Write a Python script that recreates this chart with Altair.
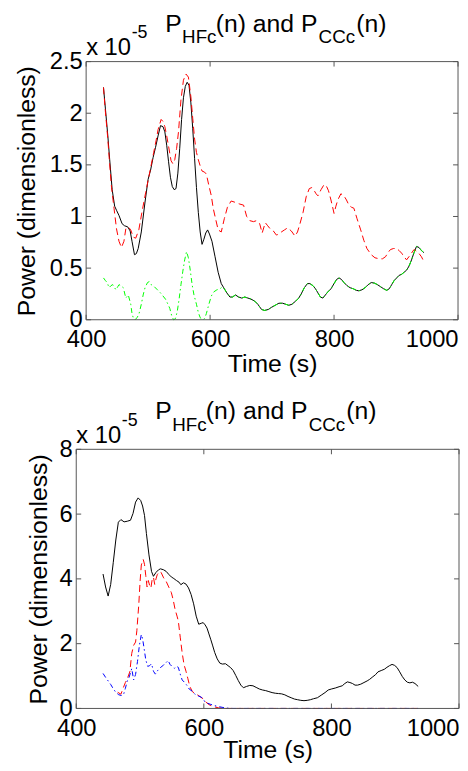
import altair as alt
import pandas as pd

FONT = "Liberation Sans"

# ---------------- top panel data (units of 1e-5) ----------------
top_black_t = [428, 431, 435, 438, 442, 446, 449, 453, 458, 462, 467, 471, 474, 478, 481, 484, 489, 495, 500, 504,
               508, 512, 516, 520, 524, 527, 530, 533, 536, 539, 542, 545, 548, 551, 554, 557, 560, 563, 566, 569,
               572, 575, 578, 581, 584, 587, 590, 593, 596, 599, 603, 608, 613, 618, 622, 627, 632, 636, 641, 646,
               651, 656, 661, 666, 672, 677, 683, 688, 694, 699, 705, 711, 717, 722, 727, 732, 738, 743, 747, 752,
               757, 761, 766, 770, 774, 778, 782, 786, 790, 795, 800, 804, 808, 812, 816, 821, 826, 831, 836, 840,
               845, 850, 855, 860, 865, 870, 875, 880, 885, 889, 893, 897, 901, 905, 909, 913, 917, 921, 925, 929,
               933, 937, 941, 945]
top_black_v = [2.25, 2.05, 1.78, 1.55, 1.26, 1.10, 1.06, 1.01, 0.93, 0.91, 0.90, 0.86, 0.76, 0.63, 0.64, 0.69, 0.85,
               1.14, 1.36, 1.45, 1.57, 1.67, 1.78, 1.88, 1.87, 1.82, 1.69, 1.53, 1.38, 1.29, 1.26, 1.27, 1.42, 1.66,
               1.94, 2.15, 2.26, 2.30, 2.27, 2.10, 1.85, 1.56, 1.28, 1.04, 0.85, 0.73, 0.78, 0.84, 0.87, 0.83, 0.76,
               0.61, 0.46, 0.35, 0.31, 0.26, 0.22, 0.22, 0.24, 0.22, 0.21, 0.22, 0.21, 0.20, 0.18, 0.15, 0.10, 0.09,
               0.10, 0.12, 0.14, 0.16, 0.16, 0.15, 0.14, 0.15, 0.18, 0.21, 0.25, 0.31, 0.35, 0.35, 0.33, 0.30, 0.26,
               0.22, 0.21, 0.24, 0.27, 0.30, 0.35, 0.39, 0.405, 0.39, 0.36, 0.33, 0.31, 0.30, 0.285, 0.28, 0.29,
               0.31, 0.34, 0.36, 0.355, 0.34, 0.32, 0.30, 0.285, 0.30, 0.34, 0.38, 0.405, 0.43, 0.44, 0.46, 0.48,
               0.52, 0.58, 0.65, 0.71, 0.70, 0.67, 0.65]

top_red_t = [428, 431, 435, 438, 441, 445, 449, 453, 457, 461, 464, 468, 472, 476, 480, 485, 490, 496, 501, 505,
             509, 513, 516, 521, 524, 527, 530, 533, 537, 540, 543, 546, 549, 553, 557, 561, 565, 569, 572, 575,
             578, 581, 584, 587, 591, 594, 598, 602, 605, 608, 613, 618, 623, 628, 634, 639, 643, 648, 654, 659,
             664, 670, 675, 680, 684, 689, 693, 697, 702, 707, 711, 715, 720, 725, 731, 737, 741, 745, 750, 755,
             760, 764, 767, 771, 774, 779, 784, 788, 791, 795, 800, 803, 806, 811, 816, 820, 824, 828, 832, 837,
             843, 848, 853, 860, 866, 873, 878, 883, 887, 891, 896, 901, 905, 909, 913, 917, 922, 929, 936, 941,
             946]
top_red_v = [2.25, 2.02, 1.75, 1.50, 1.28, 1.08, 0.88, 0.76, 0.70, 0.76, 0.88, 0.90, 0.87, 0.80, 0.79, 0.87, 1.04,
             1.23, 1.38, 1.50, 1.62, 1.74, 1.84, 1.94, 1.92, 1.87, 1.78, 1.68, 1.54, 1.51, 1.55, 1.66, 1.82, 2.13,
             2.32, 2.38, 2.35, 2.16, 1.95, 1.75, 1.62, 1.55, 1.49, 1.44, 1.43, 1.41, 1.30, 1.20, 1.08, 1.00, 0.87,
             0.85, 0.98, 1.09, 1.15, 1.14, 1.13, 1.12, 1.11, 1.00, 0.96, 0.95, 0.96, 0.93, 0.84, 0.94, 0.91, 0.88,
             0.86, 0.82, 0.83, 0.85, 0.87, 0.89, 0.86, 0.81, 0.85, 0.93, 1.04, 1.19, 1.27, 1.28, 1.26, 1.22, 1.20,
             1.26, 1.31, 1.29, 1.25, 1.16, 1.03, 1.10, 1.16, 1.22, 1.20, 1.16, 1.11, 1.09, 1.08, 0.98, 0.87, 0.77,
             0.69, 0.63, 0.60, 0.59, 0.59, 0.61, 0.65, 0.68, 0.69, 0.69, 0.67, 0.645, 0.61, 0.58, 0.62, 0.68,
             0.65, 0.61, 0.55]

# green: its own values up to t=627, then it lies on the black curve
top_green_early_t = [428, 431, 434, 437, 440, 443, 446, 448, 451, 453, 456, 460, 464, 468, 472, 474, 476, 479, 482,
                     485, 489, 492, 495, 499, 502, 505, 510, 515, 520, 524, 528, 532, 535, 538, 541, 544, 547, 550,
                     553, 556, 559, 562, 565, 568, 571, 574, 578, 581, 584, 588, 591, 594, 598, 602, 606, 611, 616,
                     620, 624, 627]
top_green_early_v = [0.405, 0.38, 0.36, 0.31, 0.33, 0.34, 0.31, 0.29, 0.32, 0.34, 0.33, 0.31, 0.21, 0.24, 0.15,
                     0.06, 0.02, 0.0, 0.02, 0.05, 0.15, 0.24, 0.31, 0.36, 0.37, 0.34, 0.32, 0.29, 0.26, 0.23, 0.20,
                     0.15, 0.11, 0.04, 0.0, 0.01, 0.08, 0.20, 0.34, 0.47, 0.58, 0.66, 0.60, 0.48, 0.34, 0.24, 0.15,
                     0.07, 0.02, 0.0, 0.01, 0.06, 0.15, 0.23, 0.27, 0.29, 0.30, 0.32, 0.29, 0.26]
green_joins_black_at = 632

# ---------------- bottom panel data (units of 1e-5) ----------------
bot_black_t = [442, 446, 450, 454, 458, 462, 466, 470, 475, 480, 485, 489, 493, 497, 501, 504, 507, 510, 514, 518,
               521, 525, 529, 532, 537, 541, 545, 549, 553, 557, 561, 564, 568, 572, 576, 580, 584, 588, 592, 596,
               599, 602, 605, 608, 611, 614, 617, 621, 625, 629, 634, 638, 642, 646, 650, 654, 658, 662, 667, 672,
               677, 682, 687, 692, 697, 702, 707, 712, 717, 722, 727, 732, 737, 742, 747, 752, 757, 762, 767, 772,
               778, 784, 790, 795, 800, 806, 812, 817, 821, 825, 829, 833, 837, 841, 846, 851, 856, 860, 865, 869,
               873, 878, 883, 887, 891, 895, 899, 903, 907, 911, 915, 919, 923, 927, 931, 936]
bot_black_v = [4.15, 3.75, 3.47, 3.83, 4.50, 5.20, 5.75, 5.83, 5.76, 5.78, 5.81, 6.02, 6.37, 6.50, 6.42, 6.25, 5.96,
               5.40, 4.74, 4.23, 4.08, 4.20, 4.28, 4.31, 4.28, 4.23, 4.14, 4.06, 4.01, 3.95, 3.90, 3.82, 3.88, 3.84,
               3.72, 3.52, 3.23, 2.85, 2.60, 2.63, 2.65, 2.58, 2.48, 2.30, 2.12, 1.93, 1.73, 1.53, 1.40, 1.37, 1.38,
               1.32, 1.26, 1.17, 1.02, 0.86, 0.72, 0.64, 0.68, 0.71, 0.70, 0.65, 0.60, 0.57, 0.55, 0.52, 0.49, 0.47,
               0.46, 0.45, 0.42, 0.37, 0.33, 0.29, 0.27, 0.25, 0.24, 0.25, 0.27, 0.30, 0.33, 0.41, 0.49, 0.57, 0.60,
               0.63, 0.67, 0.70, 0.77, 0.82, 0.80, 0.77, 0.72, 0.72, 0.75, 0.80, 0.85, 0.90, 0.98, 1.04, 1.13, 1.17,
               1.21, 1.27, 1.32, 1.36, 1.33, 1.26, 1.13, 0.99, 0.88, 0.81, 0.79, 0.81, 0.77, 0.68]

bot_red_t = [465, 470, 474, 477, 480, 484, 487, 490, 493, 495, 498, 500, 502, 505, 507, 509, 511, 513, 515, 517,
             519, 521, 523, 525, 527, 530, 533, 537, 541, 545, 549, 552, 555, 558, 560, 563, 566, 569, 572, 575,
             578, 582, 587, 591, 595, 599, 603, 608, 613, 618, 623, 628, 634, 700, 760, 820, 880, 936]
bot_red_v = [0.50, 0.44, 0.65, 0.80, 0.92, 1.13, 1.70, 1.95, 2.05, 2.40, 3.20, 3.90, 4.43, 4.60, 4.45, 4.10, 3.75,
             3.95, 3.80, 3.72, 3.98, 4.05, 3.83, 4.00, 4.13, 4.22, 4.20, 4.03, 3.92, 3.75, 3.58, 3.35, 3.05, 2.85,
             2.70, 2.20, 1.72, 1.35, 1.15, 0.92, 0.68, 0.52, 0.45, 0.41, 0.35, 0.30, 0.20, 0.12, 0.07, 0.04, 0.02,
             0.01, 0.0, 0.0, 0.0, 0.0, 0.0, 0.0]

bot_blue_t = [442, 446, 450, 454, 458, 462, 466, 470, 474, 477, 480, 483, 487, 490, 493, 496, 499, 502, 504, 506,
              509, 512, 515, 518, 521, 524, 528, 533, 537, 540, 544, 547, 550, 554, 557, 560, 563, 566, 570, 574,
              577, 582, 587, 592, 596, 600, 605, 610, 615, 620, 625, 630, 636, 645, 700, 760, 820, 880, 936]
bot_blue_v = [1.08, 0.96, 0.85, 0.74, 0.61, 0.50, 0.43, 0.40, 0.42, 0.62, 0.85, 0.97, 1.23, 0.88, 1.05, 1.45, 1.95,
              2.28, 2.15, 1.90, 1.50, 1.30, 1.32, 1.38, 1.15, 1.06, 1.18, 1.28, 1.34, 1.40, 1.48, 1.36, 1.30, 1.24,
              1.30, 1.27, 1.06, 0.88, 0.80, 0.70, 0.60, 0.53, 0.42, 0.38, 0.35, 0.24, 0.17, 0.13, 0.10, 0.07, 0.05,
              0.03, 0.01, 0.0, 0.0, 0.0, 0.0, 0.0, 0.0]

# ---------------- axes / labels ----------------
x_domain = [400, 1000]
x_ticks = [400, 600, 800, 1000]
top_y_ticks = [0, 0.5, 1, 1.5, 2, 2.5]
bot_y_ticks = [0, 2, 4, 6, 8]
x_title = "Time (s)"
y_title = "Power (dimensionless)"
title_pieces = [("P", "main"), ("HFc", "sub"), ("(n) and P", "main"), ("CCc", "sub"), ("(n)", "main")]
title_piece_x = [80, 97, 131, 235, 273]
exp_base = "x 10"
exp_power = "-5"

BOX = "#555555"
ONE = pd.DataFrame({"a": [0]})


def make_panel(series, ymax, yticks, yfmt, W, H, x0, ytitle_pad, xtitle_pad, main_base, sub_base):
    """x0 = pixel where the data rectangle starts inside the view (view starts at 0)."""
    xenc = alt.X("t:Q", scale=alt.Scale(domain=x_domain, nice=False, zero=False, range=[x0, W]),
                 axis=alt.Axis(values=x_ticks, format="d", title=x_title, labelPadding=8,
                               labelFlush=False,
                               labelAlign={"condition": {"test": "datum.value >= 1000", "value": "right"},
                                           "value": "center"},
                               titlePadding=xtitle_pad))
    yenc = alt.Y("v:Q", scale=alt.Scale(domain=[0, ymax], nice=False, zero=True),
                 axis=alt.Axis(values=yticks, format=yfmt, title=y_title, labelPadding=4,
                               titlePadding=ytitle_pad, offset=-x0))
    layers = []
    for t, v, color, dash in series:
        df = pd.DataFrame({"t": t, "v": v})
        kw = dict(color=color, strokeWidth=1)
        if dash:
            kw["strokeDash"] = dash
        layers.append(alt.Chart(df).mark_line(**kw).encode(x=xenc, y=yenc))
    rule = dict(color=BOX, strokeWidth=1)
    # box
    edges = pd.DataFrame({"t": [x_domain[0], x_domain[1]]})
    layers.append(alt.Chart(edges).mark_rule(**rule).encode(x=xenc, y=alt.value(0), y2=alt.value(H)))
    span = pd.DataFrame({"t": [x_domain[0]], "t2": [x_domain[1]]})
    layers.append(alt.Chart(span).mark_rule(**rule).encode(x=xenc, x2="t2:Q", y=alt.value(0)))
    layers.append(alt.Chart(span).mark_rule(**rule).encode(x=xenc, x2="t2:Q", y=alt.value(H)))
    # inward ticks
    xt = pd.DataFrame({"t": x_ticks})
    yt = pd.DataFrame({"v": yticks})
    layers.append(alt.Chart(xt).mark_rule(**rule).encode(x=xenc, y=alt.value(H), y2=alt.value(H - 5)))
    layers.append(alt.Chart(xt).mark_rule(**rule).encode(x=xenc, y=alt.value(0), y2=alt.value(5)))
    layers.append(alt.Chart(yt).mark_rule(**rule).encode(y=yenc, x=alt.value(x0), x2=alt.value(x0 + 5)))
    layers.append(alt.Chart(yt).mark_rule(**rule).encode(y=yenc, x=alt.value(W), x2=alt.value(W - 5)))
    # title with subscripts
    for (txt, kind), px in zip(title_pieces, title_piece_x):
        fs = 25 if kind == "main" else 19
        py = main_base if kind == "main" else sub_base
        layers.append(alt.Chart(ONE).mark_text(text=txt, align="left", baseline="alphabetic", fontSize=fs,
                                               font=FONT, color="black")
                      .encode(x=alt.value(x0 + px), y=alt.value(py)))
    layers.append(alt.Chart(ONE).mark_text(text=exp_base, align="left", baseline="alphabetic", fontSize=24,
                                           font=FONT, color="black")
                  .encode(x=alt.value(x0), y=alt.value(-6.5)))
    layers.append(alt.Chart(ONE).mark_text(text=exp_power, align="left", baseline="alphabetic", fontSize=18,
                                           font=FONT, color="black")
                  .encode(x=alt.value(x0 + 46), y=alt.value(-24)))
    return alt.layer(*layers).properties(width=W, height=H)


top_green_t = top_green_early_t + [t for t in top_black_t if t >= green_joins_black_at]
top_green_v = top_green_early_v + [v for t, v in zip(top_black_t, top_black_v) if t >= green_joins_black_at]

top = make_panel(
    [(top_black_t, top_black_v, "#000000", None),
     (top_red_t, top_red_v, "#ff0000", [7, 4]),
     (top_green_t, top_green_v, "#00ff00", [5, 3, 1.5, 3])],
    2.5, top_y_ticks, "~g", 386, 261, 10, 10, 0, -30, -18.5)

bottom = make_panel(
    [(bot_black_t, bot_black_v, "#000000", None),
     (bot_red_t, bot_red_v, "#ff0000", [7, 4]),
     (bot_blue_t, bot_blue_v, "#0000ff", [5, 3, 1.5, 3])],
    8, bot_y_ticks, "d", 387, 262, 0, 8, -2, -31, -18.5)

chart = alt.vconcat(top, bottom, spacing=23).properties(
    padding={"left": 6, "top": 0, "right": 0, "bottom": 0},
    background="white",
).configure(font=FONT).configure_view(strokeWidth=0).configure_axis(
    domain=False, ticks=False, tickSize=0, grid=False,
    labelFont=FONT, labelFontSize=24, labelColor="black",
    titleFont=FONT, titleFontSize=25, titleFontWeight="normal", titleColor="black",
)

chart.save("out.html", embed_options={"renderer": "svg", "actions": False})
